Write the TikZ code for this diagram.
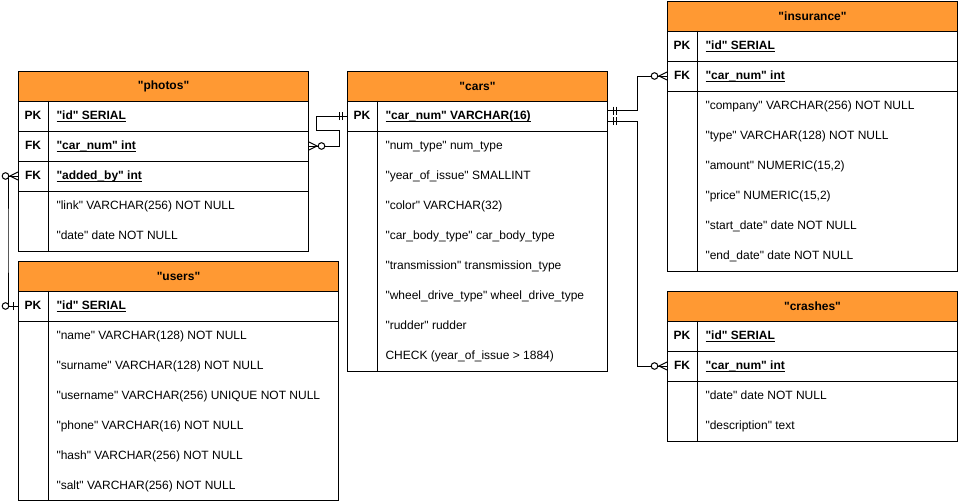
\documentclass[tikz,border=0pt]{standalone}
\usepackage{fontspec}
\setmainfont{Liberation Sans}[Ligatures=TeXOff]
\usetikzlibrary{calc}
\definecolor{hdrorange}{RGB}{255,153,51}
\newcommand\keyul[1]{\setbox0\hbox{#1}\rlap{\rule[-1.8pt]{\wd0}{0.8pt}}\box0}
\tikzset{
  basefont/.style={font=\fontsize{12}{14}\selectfont},
  hdr/.style={draw, fill=hdrorange, minimum height=30, anchor=north west, inner sep=0, font=\fontsize{12}{14}\selectfont\bfseries},
  rowbox/.style={draw, minimum height=30, anchor=north west, inner sep=0},
  bodybox/.style={draw, anchor=north west, inner sep=0},
  keytxt/.style={inner sep=0, text height=8.6pt, text depth=0pt, font=\fontsize{12}{14}\selectfont\bfseries},
  fld/.style={anchor=west, inner sep=0, text height=8.6pt, text depth=0pt, basefont},
  keyfld/.style={fld, font=\fontsize{12}{14}\selectfont\bfseries},
  conn/.style={line width=1pt},
  zmany/.pic={\draw[line width=1pt] (0,-4) -- (8,0) -- (0,4);
              \draw[line width=1pt, fill=white] (12.5,0) circle[radius=3.3];},
  mone/.pic={\draw[line width=1pt] (5,-4) -- (5,4) (8,-4) -- (8,4);},
  zone/.pic={\draw[line width=1pt] (5,-4) -- (5,4);
             \draw[line width=1pt, fill=white] (12.5,0) circle[radius=3.3];}
}
\begin{document}
\begin{tikzpicture}[x=1pt, y=-1pt, line width=1pt]
\useasboundingbox (0,0) rectangle (958,501);

% ---------------- photos ----------------
\node[hdr, minimum width=290] (ph-h) at (18,70.5) {"photos"};
\node[rowbox, minimum width=290] (ph-pk) at (18,100.5) {};
\node[rowbox, minimum width=290] (ph-car) at (18,130.5) {};
\node[rowbox, minimum width=290] (ph-add) at (18,160.5) {};
\node[bodybox, minimum width=290, minimum height=60] (ph-body) at (18,190.5) {};
\draw ([xshift=30pt]ph-pk.north west) -- ([xshift=30pt]ph-body.south west);
\node[keytxt] (ph-k1) at (33,115.5) {PK};
\node[keytxt] (ph-k2) at (33,145.5) {FK};
\node[keytxt] (ph-k3) at (33,175.5) {FK};
\node[keyfld] (ph-f1) at (56,115.5) {\keyul{"id" SERIAL}};
\node[keyfld] (ph-f2) at (56,145.5) {\keyul{"car\_num" int}};
\node[keyfld] (ph-f3) at (56,175.5) {\keyul{"added\_by" int}};
\foreach \t [count=\i] in {{"link" VARCHAR(256) NOT NULL},{"date" date NOT NULL}}
  \node[fld] (ph-b\i) at (56,175.5+30*\i) {\t};

% ---------------- users ----------------
\node[hdr, minimum width=320] (us-h) at (18,260.5) {"users"};
\node[rowbox, minimum width=320] (us-pk) at (18,290.5) {};
\node[bodybox, minimum width=320, minimum height=179] (us-body) at (18,320.5) {};
\draw ([xshift=30pt]us-pk.north west) -- ([xshift=30pt]us-body.south west);
\node[keytxt] (us-k1) at (33,305.5) {PK};
\node[keyfld] (us-f1) at (56,305.5) {\keyul{"id" SERIAL}};
\foreach \t [count=\i] in {{"name" VARCHAR(128) NOT NULL},{"surname" VARCHAR(128) NOT NULL},
  {"username" VARCHAR(256) UNIQUE NOT NULL},{"phone" VARCHAR(16) NOT NULL},
  {"hash" VARCHAR(256) NOT NULL},{"salt" VARCHAR(256) NOT NULL}}
  \node[fld] (us-b\i) at (56,305.5+30*\i) {\t};

% ---------------- cars ----------------
\node[hdr, minimum width=260] (ca-h) at (347,70.5) {"cars"};
\node[rowbox, minimum width=260] (ca-pk) at (347,100.5) {};
\node[bodybox, minimum width=260, minimum height=240] (ca-body) at (347,130.5) {};
\draw ([xshift=30pt]ca-pk.north west) -- ([xshift=30pt]ca-body.south west);
\node[keytxt] (ca-k1) at (362,115.5) {PK};
\node[keyfld] (ca-f1) at (385,115.5) {\keyul{"car\_num" VARCHAR(16)}};
\foreach \t [count=\i] in {{"num\_type" num\_type},{"year\_of\_issue" SMALLINT},
  {"color" VARCHAR(32)},{"car\_body\_type" car\_body\_type},
  {"transmission" transmission\_type},{"wheel\_drive\_type" wheel\_drive\_type},
  {"rudder" rudder},{CHECK (year\_of\_issue > 1884)}}
  \node[fld] (ca-b\i) at (385,115.5+30*\i) {\t};

% ---------------- insurance ----------------
\node[hdr, minimum width=290] (in-h) at (667,0.5) {"insurance"};
\node[rowbox, minimum width=290] (in-pk) at (667,30.5) {};
\node[rowbox, minimum width=290] (in-fk) at (667,60.5) {};
\node[bodybox, minimum width=290, minimum height=180] (in-body) at (667,90.5) {};
\draw ([xshift=30pt]in-pk.north west) -- ([xshift=30pt]in-body.south west);
\node[keytxt] (in-k1) at (682,45.5) {PK};
\node[keytxt] (in-k2) at (682,75.5) {FK};
\node[keyfld] (in-f1) at (705,45.5) {\keyul{"id" SERIAL}};
\node[keyfld] (in-f2) at (705,75.5) {\keyul{"car\_num" int}};
\foreach \t [count=\i] in {{"company" VARCHAR(256) NOT NULL},{"type" VARCHAR(128) NOT NULL},
  {"amount" NUMERIC(15,2)},{"price" NUMERIC(15,2)},
  {"start\_date" date NOT NULL},{"end\_date" date NOT NULL}}
  \node[fld] (in-b\i) at (705,75.5+30*\i) {\t};

% ---------------- crashes ----------------
\node[hdr, minimum width=290] (cr-h) at (667,290.5) {"crashes"};
\node[rowbox, minimum width=290] (cr-pk) at (667,320.5) {};
\node[rowbox, minimum width=290] (cr-fk) at (667,350.5) {};
\node[bodybox, minimum width=290, minimum height=60] (cr-body) at (667,380.5) {};
\draw ([xshift=30pt]cr-pk.north west) -- ([xshift=30pt]cr-body.south west);
\node[keytxt] (cr-k1) at (682,335.5) {PK};
\node[keytxt] (cr-k2) at (682,365.5) {FK};
\node[keyfld] (cr-f1) at (705,335.5) {\keyul{"id" SERIAL}};
\node[keyfld] (cr-f2) at (705,365.5) {\keyul{"car\_num" int}};
\foreach \t [count=\i] in {{"date" date NOT NULL},{"description" text}}
  \node[fld] (cr-b\i) at (705,365.5+30*\i) {\t};

% ---------------- connectors ----------------
\coordinate (b1) at (339.5,130);
\coordinate (b2) at (316.5,130);
\coordinate (v1) at (8,240);
\coordinate (jx) at (637,0);
\coordinate (ca-o1) at ([yshift=5.5pt]ca-pk.east);
\coordinate (ca-o2) at ([yshift=-5pt]ca-pk.east);

\draw[conn] (ph-car.east) -| (b1) -- (b2) |- (ca-pk.west);
\draw[conn] (ph-add.west) -| (v1) |- (us-pk.west);
\draw[conn] (ca-o1) -- (ca-o1 -| jx) |- (in-fk.west);
\draw[conn] (ca-o2) -- (ca-o2 -| jx) |- (cr-fk.west);

\pic at (ph-car.east) {zmany};
\pic[rotate=180] at (ca-pk.west) {mone};
\pic[rotate=180] at (ph-add.west) {zmany};
\pic[rotate=180] at (us-pk.west) {zone};
\pic at (ca-o1) {mone};
\pic at (ca-o2) {mone};
\pic[rotate=180] at (in-fk.west) {zmany};
\pic[rotate=180] at (cr-fk.west) {zmany};
\end{tikzpicture}
\end{document}
